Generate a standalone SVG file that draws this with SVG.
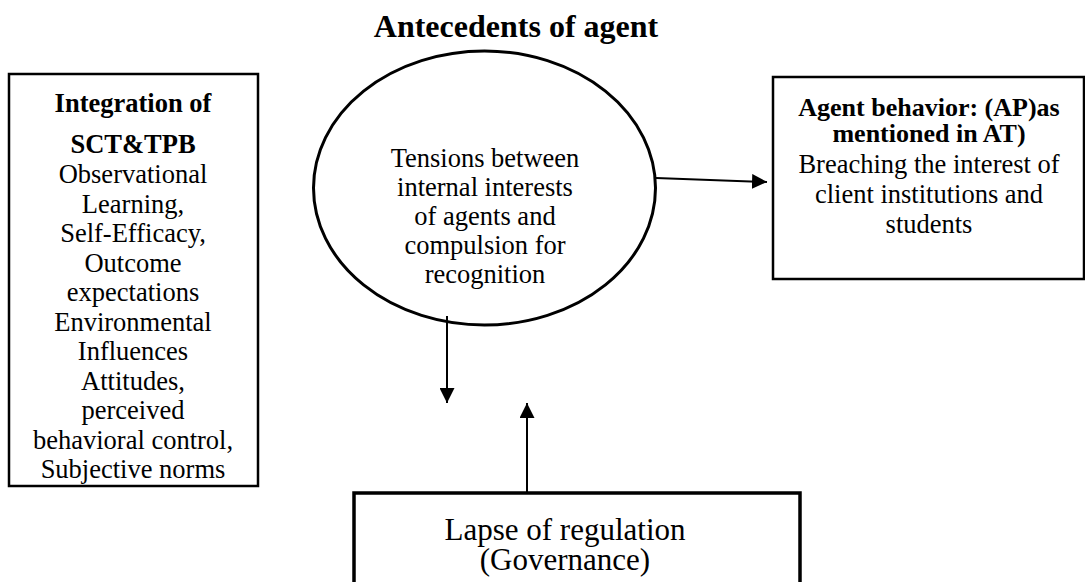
<svg xmlns="http://www.w3.org/2000/svg" width="1085" height="582" viewBox="0 0 1085 582">
<style>
text{font-family:"Liberation Serif","Times New Roman",serif;fill:#000;text-anchor:middle}
.b{font-weight:bold}
.t26{font-size:26.5px}
.box{fill:#fff;stroke:#000;stroke-width:2.5}
.conn{stroke:#000;stroke-width:2;fill:none}
</style>
<defs>
<marker id="ah2" viewBox="0 0 10 10" refX="10" refY="5" markerWidth="15" markerHeight="15" markerUnits="userSpaceOnUse" orient="auto">
<path d="M0,0 L10,5 L0,10 z" fill="#000"/>
</marker>
</defs>
<rect width="1085" height="582" fill="#fff"/>
<text id="title" class="b" x="516" y="37" font-size="32">Antecedents of agent</text>

<g id="node-integration">
<rect class="box" x="9" y="74" width="249" height="412"/>
<text class="b t26" x="133" y="112">Integration of</text>
<text class="b t26" x="133" y="153">SCT&amp;TPB</text>
<text class="t26" x="133" y="183">Observational</text>
<text class="t26" x="133" y="212.5">Learning,</text>
<text class="t26" x="133" y="242">Self-Efficacy,</text>
<text class="t26" x="133" y="271.5">Outcome</text>
<text class="t26" x="133" y="301">expectations</text>
<text class="t26" x="133" y="330.5">Environmental</text>
<text class="t26" x="133" y="360">Influences</text>
<text class="t26" x="133" y="389.5">Attitudes,</text>
<text class="t26" x="133" y="419">perceived</text>
<text class="t26" x="133" y="448.5">behavioral control,</text>
<text class="t26" x="133" y="478">Subjective norms</text>
</g>

<g id="node-tensions">
<ellipse cx="484.5" cy="188" rx="171" ry="137" fill="#fff" stroke="#000" stroke-width="3"/>
<text class="t26" x="485" y="167">Tensions between</text>
<text class="t26" x="485" y="196">internal interests</text>
<text class="t26" x="485" y="225">of agents and</text>
<text class="t26" x="485" y="254">compulsion for</text>
<text class="t26" x="485" y="283">recognition</text>
</g>

<g id="node-agent-behavior">
<rect class="box" x="773" y="77" width="311" height="202"/>
<text class="b" x="929" y="116" font-size="26">Agent behavior: (AP)as</text>
<text class="b" x="929" y="142" font-size="26">mentioned in AT)</text>
<text class="t26" x="929" y="173">Breaching the interest of</text>
<text class="t26" x="929" y="203">client institutions and</text>
<text class="t26" x="929" y="233">students</text>
</g>

<g id="node-lapse">
<rect x="354" y="493" width="446" height="100" fill="#fff" stroke="#000" stroke-width="3.5"/>
<text x="565" y="540" font-size="31">Lapse of regulation</text>
<text x="565" y="570" font-size="31">(Governance)</text>
</g>

<g id="connectors">
<line class="conn" x1="656" y1="178" x2="767" y2="182" marker-end="url(#ah2)"/>
<line class="conn" x1="447" y1="316" x2="447" y2="403" marker-end="url(#ah2)"/>
<line class="conn" x1="527" y1="493" x2="527" y2="403" marker-end="url(#ah2)"/>
</g>
</svg>
